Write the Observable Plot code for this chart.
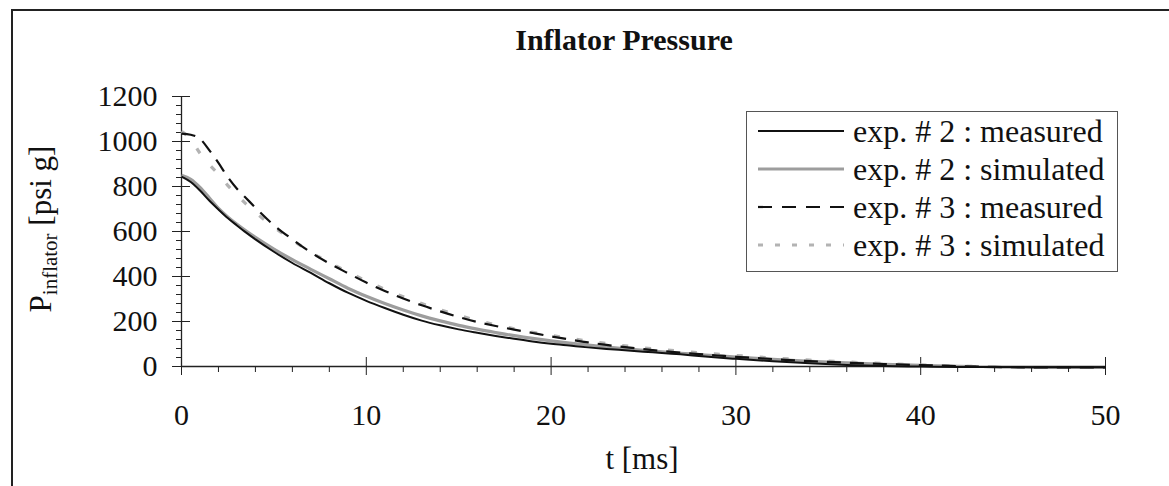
<!DOCTYPE html>
<html>
<head>
<meta charset="utf-8">
<script src="https://cdn.jsdelivr.net/npm/d3@7"></script>
<script src="https://cdn.jsdelivr.net/npm/@observablehq/plot@0.6"></script>
<style>
  html, body { margin: 0; padding: 0; background: #fff; }
  #wrap { position: relative; width: 1169px; height: 486px; overflow: hidden;
          font-family: "Liberation Serif", "Times New Roman", serif; color: #111; }
  #frame { position: absolute; left: 11px; top: 9px; width: 1170px; height: 490px;
           border-left: 2px solid #222; border-top: 2px solid #222; }
  #chart { position: absolute; left: 0; top: 0; }
  #title { position: absolute; left: 374px; width: 500px; top: 24px; text-align: center;
           font-weight: bold; font-size: 30px; line-height: 32px; }
  #ylabel { position: absolute; left: 45px; top: 229px; white-space: nowrap;
            transform: translate(-50%, -50%) rotate(-90deg); font-size: 31px; line-height: 31px; }
  #ylabel sub { font-size: 21px; vertical-align: -6px; }
  #xlabel { position: absolute; left: 492px; width: 300px; top: 443px; text-align: center;
            font-size: 31px; line-height: 31px; }
  #legend { position: absolute; left: 746px; top: 111px; width: 372px; height: 161px;
            box-sizing: border-box; border: 1.5px solid #555; background: #fff;
            padding: 0 0 0 11px; }
  #legend .row { display: flex; align-items: center; height: 38px; font-size: 32px; white-space: nowrap; }
  #legend svg { margin-right: 9px; flex: none; }
</style>
</head>
<body>
<div id="wrap">
  <div id="frame"></div>
  <div id="chart"></div>
  <div id="title"></div>
  <div id="ylabel"></div>
  <div id="xlabel"></div>
  <div id="legend"></div>
</div>
<script>
// ---- data: inflator pressure [psi g] versus time [ms] ----
const tMeasured = [0, 0.5, 1, 1.5, 2, 2.5, 3, 3.5, 4, 5, 6, 7, 8, 9, 10, 11, 12, 13, 14, 15, 16, 17, 18, 19, 20,
                   21, 22, 23, 24, 25, 26, 27, 28, 29, 30, 32, 34, 36, 38, 40, 42, 44, 46, 48, 50];
const tSimulated = [0, 0.5, 1, 1.5, 2, 2.5, 3, 3.5, 4, 5, 6, 7, 8, 9, 10, 11, 12, 13, 14, 15, 16, 17, 18, 19, 20,
                    21, 22, 23, 24, 25, 26, 27, 28, 29, 30, 32, 34, 36, 38, 40, 42, 43];

const exp2Measured = [844, 820, 782, 738, 698, 660, 627, 595, 565, 510, 460, 416, 370, 328, 292, 260, 230, 204, 183, 165,
                      150, 136, 123, 111, 101, 93, 85, 78, 72, 66, 60, 54, 47, 40, 34, 23, 14, 7, 2, 0, -2, -3, -4, -4, -4];
const exp2Simulated = [850, 832, 796, 750, 703, 665, 632, 602, 574, 522, 475, 432, 390, 348, 312, 280, 251, 225, 203, 183,
                       166, 151, 137, 125, 114, 104, 95, 87, 79, 72, 65, 59, 53, 47, 42, 32, 23, 16, 10, 5, 1, 0];
const exp3Measured = [1035, 1030, 1012, 962, 905, 842, 790, 748, 706, 628, 565, 507, 458, 415, 373, 336, 302, 272, 245, 220,
                      198, 180, 164, 149, 134, 120, 107, 96, 86, 77, 69, 62, 55, 49, 43, 33, 24, 17, 11, 6, 2, -2, -4, -4, -4];
const exp3Simulated = [1045, 1010, 948, 898, 855, 805, 762, 722, 685, 620, 562, 508, 462, 420, 380, 343, 310, 280, 252, 227,
                       205, 185, 168, 152, 138, 125, 113, 102, 92, 83, 75, 68, 61, 55, 49, 38, 28, 20, 13, 7, 2, 0];

const seriesNames = ["exp. # 2 : measured", "exp. # 2 : simulated", "exp. # 3 : measured", "exp. # 3 : simulated"];

const xMajorTicks = [0, 10, 20, 30, 40, 50];
const xMinorTicks = [2, 4, 6, 8, 12, 14, 16, 18, 22, 24, 26, 28, 32, 34, 36, 38, 42, 44, 46, 48];
const yMajorTicks = [0, 200, 400, 600, 800, 1000, 1200];
const yMinorTicks = d3.range(0, 1201, 40).filter(v => v % 200 !== 0);

const titleText = "Inflator Pressure";
const xLabelText = "t [ms]";

// ---- line styles for the four series (legend and plot share them) ----
const lineStyles = [
  {stroke: "#111", strokeWidth: 2, dash: null, legendDash: null},
  {stroke: "#9d9d9d", strokeWidth: 3.2, dash: null, legendDash: null},
  {stroke: "#111", strokeWidth: 2.2, dash: "14,9", legendDash: "14,10"},
  {stroke: "#b3b3b3", strokeWidth: 3.2, dash: "6,17", legendDash: "5,12"}
];

const toRows = (ts, ps) => ts.map((t, i) => ({t, p: ps[i]}));
const series = [
  toRows(tMeasured, exp2Measured),
  toRows(tSimulated, exp2Simulated),
  toRows(tMeasured, exp3Measured),
  toRows(tSimulated, exp3Simulated)
];

const W = 1169, H = 486;
const mLeft = 181, mRight = 64, mTop = 96, mBottom = 120;
const frameW = W - mLeft - mRight, frameH = H - mTop - mBottom;
const crossLen = 9;
const plainNumber = d3.format("d");

const lineMark = (rows, s) => Plot.line(rows, {
  x: "t", y: "p", curve: "monotone-x",
  stroke: s.stroke, strokeWidth: s.strokeWidth,
  strokeDasharray: s.dash, strokeLinecap: "butt", strokeLinejoin: "round"
});

const chart = Plot.plot({
  width: W, height: H,
  marginLeft: mLeft, marginRight: mRight, marginTop: mTop, marginBottom: mBottom,
  x: {domain: [0, 50]},
  y: {domain: [0, 1200]},
  style: {fontFamily: "'Liberation Serif', 'Times New Roman', serif", fontSize: "30px",
          color: "#111", background: "transparent", overflow: "visible"},
  marks: [
    // minor ticks (outside only)
    Plot.axisX({ticks: xMinorTicks, tickSize: 6, tickFormat: () => "", label: null, stroke: "#222"}),
    Plot.axisY({ticks: yMinorTicks, tickSize: 5, tickFormat: () => "", label: null, stroke: "#222"}),
    // major ticks with labels (outside half)
    Plot.axisX({ticks: xMajorTicks, tickSize: crossLen, tickPadding: 28, tickFormat: plainNumber,
                label: null, fontSize: 30, stroke: "#222"}),
    Plot.axisY({ticks: yMajorTicks, tickSize: crossLen, tickPadding: 15, tickFormat: plainNumber,
                label: null, fontSize: 30, stroke: "#222"}),
    // inside half of the major ticks
    Plot.tickX(xMajorTicks, {x: d => d, insetTop: frameH - crossLen, stroke: "#222"}),
    Plot.tickY(yMajorTicks, {y: d => d, insetRight: frameW - crossLen, stroke: "#222"}),
    // axis lines
    Plot.ruleY([0], {stroke: "#222", strokeWidth: 1.3}),
    Plot.ruleX([0], {stroke: "#222", strokeWidth: 1.3}),
    // pressure curves: simulated under measured
    lineMark(series[1], lineStyles[1]),
    lineMark(series[3], lineStyles[3]),
    lineMark(series[0], lineStyles[0]),
    lineMark(series[2], lineStyles[2])
  ]
});
document.getElementById("chart").appendChild(chart);

document.getElementById("title").textContent = titleText;
document.getElementById("xlabel").textContent = xLabelText;
document.getElementById("ylabel").innerHTML = "P<sub>inflator</sub> [psi g]";

// legend: a short line sample per series, then its name
const legend = document.getElementById("legend");
seriesNames.forEach((name, i) => {
  const s = lineStyles[i];
  const row = document.createElement("div");
  row.className = "row";
  const sampleW = 86;
  row.innerHTML =
    `<svg width="${sampleW}" height="10"><line x1="0" x2="${sampleW}" y1="5" y2="5" stroke="${s.stroke}"
       stroke-width="${s.strokeWidth}" ${s.legendDash ? `stroke-dasharray="${s.legendDash}"` : ""}/></svg>` +
    `<span>${name}</span>`;
  legend.appendChild(row);
});
</script>
</body>
</html>
